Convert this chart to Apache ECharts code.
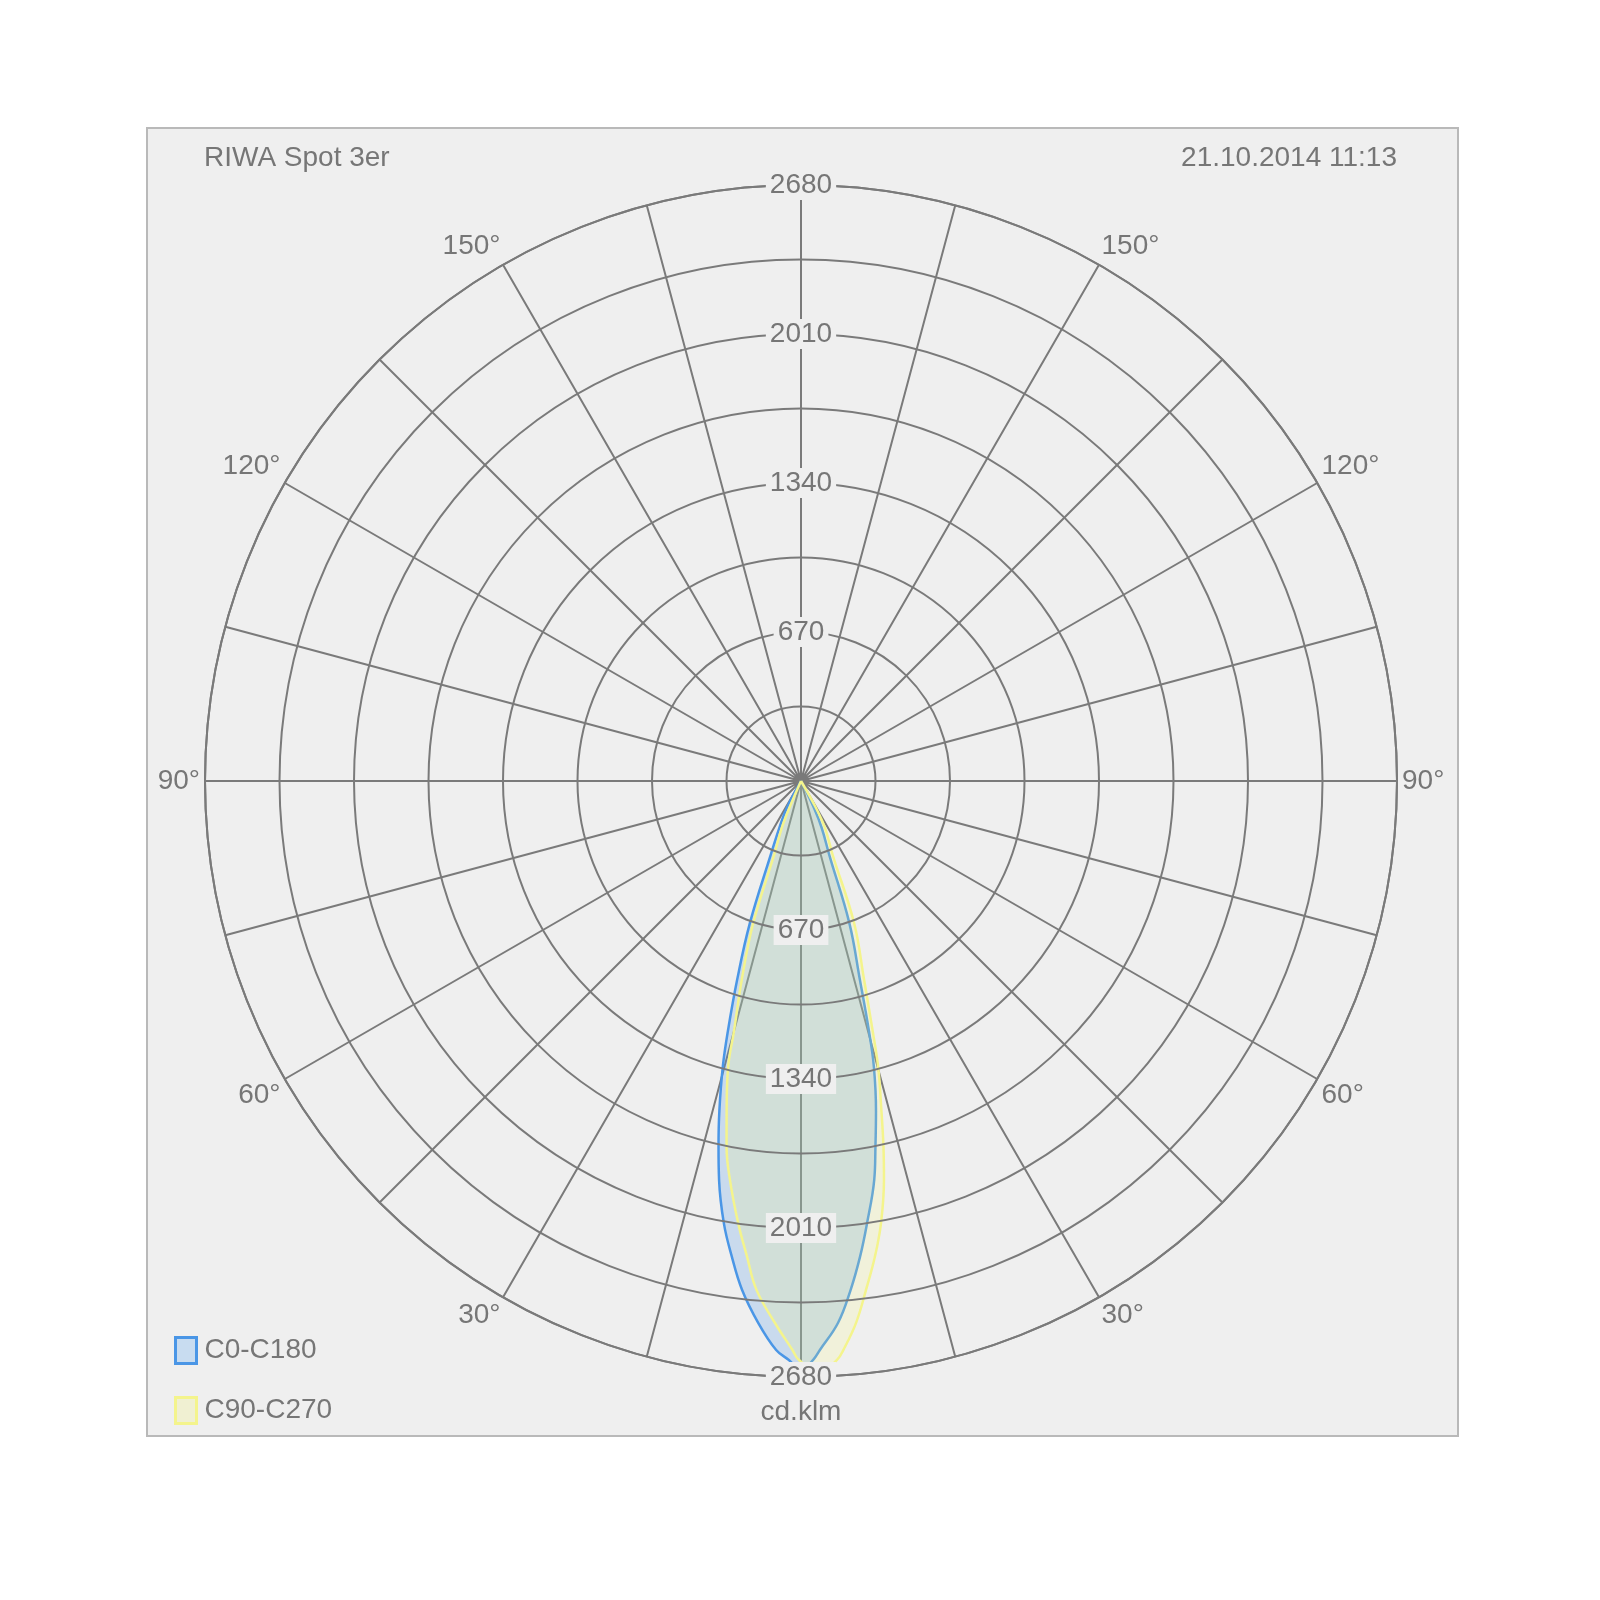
<!DOCTYPE html>
<html>
<head>
<meta charset="utf-8">
<script src="https://cdn.jsdelivr.net/npm/echarts@6/dist/echarts.min.js"></script>
<style>
  html, body { margin: 0; padding: 0; background: #ffffff; }
  #frame { position: absolute; left: 146px; top: 127px; width: 1309px; height: 1306px; background: #efefef; border: 2px solid #b9b9b9; }
  #chart { position: absolute; left: 0; top: 0; width: 1600px; height: 1600px; }
</style>
</head>
<body>
<div id="frame"></div>
<div id="chart"></div>
<script>
// ---- data ----
const titleText = 'RIWA Spot 3er';
const dateText = '21.10.2014 11:13';
const unitText = 'cd.klm';
const seriesNames = ['C0-C180', 'C90-C270'];

// C0-C180: gamma angle (deg, negative = left half) and intensity (cd/klm)
const c0Angles = [-90, -31.5, -27.9, -24.8, -22.3, -19.8, -17.8, -16.3, -15.3, -13.9, -12.7, -11.6, -9.9, -8.3, -6.6, -4.5, -2.5, -1.2, 0, 1.2, 1.9, 3.9, 5.55, 7.1, 8.5, 10.4, 11.5, 12.8, 14.3, 15.2, 16.5, 18.8, 20.9, 23.8, 25.7, 29, 90];
const c0Values = [0, 0, 137, 233, 360, 678, 940, 1171, 1333, 1528, 1687, 1832, 2018, 2159, 2304, 2445, 2561, 2604, 2648, 2604, 2560, 2443, 2301, 2153, 2010, 1824, 1679, 1522, 1327, 1165, 933, 674, 357, 231, 135, 0, 0];

// C90-C270
const c90Angles = [-90, -26, -23.4, -22.3, -20.0, -18.6, -16.6, -15.0, -14.3, -12.7, -11.5, -10.1, -8.1, -6.5, -5.0, -2.75, -0.86, -0.2, 1.84, 3.56, 4.25, 5.79, 7.28, 8.86, 10.26, 11.75, 12.7, 13.7, 15.1, 16.0, 17.6, 20.5, 23.2, 27.1, 29.1, 33, 90];
const c90Values = [0, 0, 132, 228, 354, 674, 933, 1164, 1327, 1521, 1679, 1822, 2007, 2150, 2297, 2440, 2559, 2604, 2659, 2608, 2566, 2450, 2307, 2162, 2020, 1832, 1687, 1527, 1332, 1169, 939, 682, 362, 237, 139, 0, 0];

// radial scale
const radiusMax = 2680;
const labelStep = 670;
const angleStep = 15;

// ---- chart ----
const pairs = (angles, values) => angles.map((a, i) => [values[i], a]);

const textColor = '#767676';
const gridColor = '#7a7a7a';
const font = 'Liberation Sans, Arial, sans-serif';
const blue = '#4a96e6';
const yellow = '#f4f48c';

const chart = echarts.init(document.getElementById('chart'), null, { renderer: 'canvas' });

const radialLabel = {
  fontSize: 28, color: textColor, fontFamily: font,
  margin: 0, align: 'center', verticalAlign: 'middle',
  backgroundColor: '#efefef', padding: [1, 4],
  showMinLabel: false,
  formatter: v => (v > 0 ? String(v) : '')
};

chart.setOption({
  backgroundColor: 'transparent',
  animation: false,
  textStyle: { fontFamily: font },
  title: [
    { text: titleText, left: 204, top: 144, padding: 0,
      textStyle: { fontSize: 28, fontWeight: 'normal', color: textColor, fontFamily: font } },
    { text: dateText, right: 203, top: 144, padding: 0,
      textStyle: { fontSize: 28, fontWeight: 'normal', color: textColor, fontFamily: font } }
  ],
  legend: {
    orient: 'vertical', left: 174, top: 1336, padding: 0,
    icon: 'rect', itemWidth: 21, itemHeight: 26, itemGap: 31,
    textStyle: { fontSize: 28, color: textColor, fontFamily: font, padding: [0, 0, 0, 3] },
    data: [
      { name: seriesNames[0], itemStyle: { color: 'rgba(200,220,240,1)', borderColor: blue, borderWidth: 3 } },
      { name: seriesNames[1], itemStyle: { color: 'rgba(240,240,210,1)', borderColor: yellow, borderWidth: 3 } }
    ]
  },
  polar: [
    { center: [801, 781], radius: 596 },
    { center: [801, 781], radius: 596 }
  ],
  angleAxis: [
    {
      polarIndex: 0, type: 'value', min: -180, max: 180, interval: angleStep,
      startAngle: 90, clockwise: false,
      axisLine: { show: true, lineStyle: { color: gridColor, width: 2 } },
      axisTick: { show: false },
      splitLine: { show: true, lineStyle: { color: gridColor, width: 2 } },
      axisLabel: {
        fontSize: 28, color: textColor, fontFamily: font, margin: 5,
        formatter: v => (v % 30 === 0 && Math.abs(v) !== 0 && Math.abs(v) !== 180) ? Math.abs(v) + '°' : ''
      }
    },
    {
      polarIndex: 1, type: 'value', min: 0, max: 360, startAngle: 270,
      axisLine: { show: false }, axisTick: { show: false },
      splitLine: { show: false }, axisLabel: { show: false }
    }
  ],
  radiusAxis: [
    {
      polarIndex: 0, type: 'value', min: 0, max: radiusMax, interval: labelStep, z: 10,
      axisLine: { show: false }, axisTick: { show: false },
      splitLine: { show: true, lineStyle: { color: gridColor, width: 2 } },
      minorTick: { show: false, splitNumber: 2 },
      minorSplitLine: { show: true, lineStyle: { color: gridColor, width: 2 } },
      axisLabel: radialLabel
    },
    {
      polarIndex: 1, type: 'value', min: 0, max: radiusMax, interval: labelStep, z: 10,
      axisLine: { show: false }, axisTick: { show: false },
      splitLine: { show: false },
      name: unitText, nameLocation: 'end', nameGap: 21, nameRotate: 0,
      nameTextStyle: { fontSize: 28, color: textColor, fontFamily: font },
      axisLabel: radialLabel
    }
  ],
  series: [
    {
      name: seriesNames[0], type: 'line', coordinateSystem: 'polar', polarIndex: 0,
      data: pairs(c0Angles, c0Values), symbol: 'none', smooth: 0.4, z: 3,
      lineStyle: { color: blue, width: 2.5 }, itemStyle: { color: blue },
      areaStyle: { color: 'rgba(80,150,230,0.24)', opacity: 1 }
    },
    {
      name: seriesNames[1], type: 'line', coordinateSystem: 'polar', polarIndex: 0,
      data: pairs(c90Angles, c90Values), symbol: 'none', smooth: 0.4, z: 4,
      lineStyle: { color: yellow, width: 2.5 }, itemStyle: { color: yellow },
      areaStyle: { color: 'rgba(250,250,120,0.18)', opacity: 1 }
    }
  ]
});
</script>
</body>
</html>
